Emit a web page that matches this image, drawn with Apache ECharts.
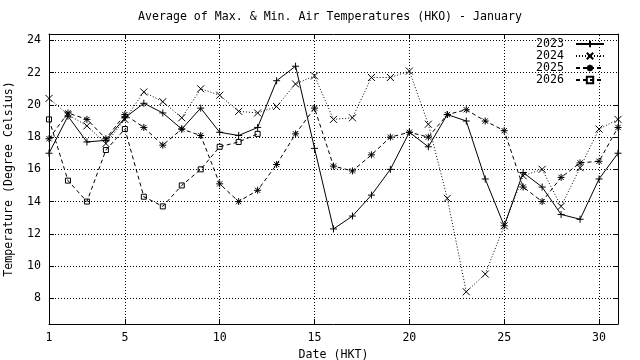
<!DOCTYPE html>
<html><head><meta charset="utf-8">
<script src="https://cdn.jsdelivr.net/npm/echarts@6/dist/echarts.min.js"></script>
<style>html,body{margin:0;padding:0;background:#fff}#c{width:640px;height:360px}</style>
</head><body><div id="c"></div>
<script>
const days = [1,2,3,4,5,6,7,8,9,10,11,12,13,14,15,16,17,18,19,20,21,22,23,24,25,26,27,28,29,30,31];
const xTicks = [1,5,10,15,20,25,30];
const xGrid = [5,10,15,20,25,30];
const yTicks = [8,10,12,14,16,18,20,22,24];
const t2023 = [17.0,19.3,17.7,17.8,19.2,20.1,19.5,18.5,19.8,18.3,18.1,18.6,21.5,22.4,17.3,12.3,13.1,14.4,16.0,18.3,17.4,19.4,19.0,15.4,12.5,15.8,14.9,13.2,12.9,15.4,17.0];
const t2024 = [20.4,19.4,18.7,17.6,19.1,20.8,20.2,19.2,21.0,20.6,19.6,19.5,19.9,21.3,21.8,19.1,19.2,21.7,21.7,22.1,18.8,14.2,8.4,9.5,12.5,15.6,16.0,13.7,16.1,18.5,19.1];
const t2025 = [17.9,19.5,19.1,17.9,19.4,18.6,17.5,18.5,18.1,15.1,14.0,14.7,16.3,18.2,19.8,16.2,15.9,16.9,18.0,18.3,18.0,19.4,19.7,19.0,18.4,14.9,14.0,15.5,16.4,16.5,18.6];
const t2026 = [19.1,15.3,14.0,17.2,18.5,14.3,13.7,15.0,16.0,17.4,17.7,18.2];
const seriesNames = ['2023','2024','2025','2026'];
const titleText = 'Average of Max. & Min. Air Temperatures (HKO) - January';
const xName = 'Date (HKT)';
const yName = 'Temperature (Degree Celsius)';

const FONT = 'DejaVu Sans Mono';
const FS = 11.6;
const pairs = vals => vals.map((v, i) => [days[i], v]);
const symPlus = 'path://M0,4H8M4,0V8';
const symCross = 'path://M0,0L8,8M8,0L0,8';
const symStar = 'path://M0,4H8M4,0V8M1,1L7,7M7,1L1,7';
const symSquare = 'path://M0,0H8V8H0Z';

function mkSeries(name, vals, symbol, size, dash, extra) {
  return Object.assign({
    name, type: 'line', data: pairs(vals), symbol, symbolSize: size,
    showAllSymbol: true, animation: false,
    lineStyle: { color: '#000', width: 1, type: dash },
    itemStyle: { color: 'rgba(0,0,0,0)', borderColor: '#000', borderWidth: 1 },
    emphasis: { disabled: true }
  }, extra || {});
}

const black = { color: '#000', width: 1 };
const tickCommon = { inside: true, length: 5, lineStyle: black };
const gridDot = { color: '#000', width: 1, type: [1, 2] };

const option = {
  animation: false,
  backgroundColor: '#fff',
  grid: { left: 49, right: 22, top: 34, bottom: 36, containLabel: false, outerBoundsMode: 'none' },
  graphic: [{
    type: 'text', left: 334 - 56 * 3.5, top: 11,
    style: { text: titleText, font: FS + 'px "' + FONT + '"', fill: '#000' }
  }],
  legend: {
    data: seriesNames, orient: 'vertical', align: 'right',
    right: 22, top: 35, padding: [3, 13, 3, 7],
    itemWidth: 28, itemHeight: 8, itemGap: 0,
    backgroundColor: '#fff',
    textStyle: { fontFamily: FONT, fontSize: FS, color: '#000', lineHeight: 10.5, padding: [0, 7, 0, 0] }
  },
  xAxis: [{
    type: 'value', min: 1, max: 31, position: 'bottom',
    axisLine: { onZero: false, lineStyle: black },
    axisTick: Object.assign({ customValues: xTicks }, tickCommon),
    axisLabel: { customValues: xTicks, color: '#000', fontFamily: FONT, fontSize: FS, margin: 8 },
    splitLine: { show: false },
    name: xName, nameLocation: 'middle', nameGap: 22,
    nameTextStyle: { color: '#000', fontFamily: FONT, fontSize: FS }
  }, {
    type: 'value', min: 1, max: 31, position: 'top',
    axisLine: { onZero: false, lineStyle: black },
    axisTick: Object.assign({ customValues: xTicks }, tickCommon),
    axisLabel: { show: false }, splitLine: { show: false }
  }],
  yAxis: [{
    type: 'value', min: 6.4, max: 24.4, position: 'left',
    axisLine: { onZero: false, show: true, lineStyle: black },
    axisTick: Object.assign({ customValues: yTicks }, tickCommon),
    axisLabel: { customValues: yTicks, color: '#000', fontFamily: FONT, fontSize: FS, margin: 8 },
    splitLine: { show: false },
    name: yName, nameLocation: 'middle', nameGap: 34, nameRotate: 90,
    nameTextStyle: { color: '#000', fontFamily: FONT, fontSize: FS }
  }, {
    type: 'value', min: 6.4, max: 24.4, position: 'right',
    axisLine: { onZero: false, show: true, lineStyle: black },
    axisTick: Object.assign({ customValues: yTicks }, tickCommon),
    axisLabel: { show: false }, splitLine: { show: false }
  }],
  series: [
    mkSeries('2023', t2023, symPlus, 7, 'solid', {
      markLine: {
        silent: true, symbol: 'none', label: { show: false }, animation: false,
        lineStyle: gridDot, emphasis: { disabled: true },
        data: xGrid.map(v => ({ xAxis: v })).concat(yTicks.map(v => ({ yAxis: v })))
      }
    }),
    mkSeries('2024', t2024, symCross, 7, [1, 2]),
    mkSeries('2025', t2025, symStar, 7, [4, 3]),
    mkSeries('2026', t2026, symSquare, 5, [4, 3])
  ]
};
const chart = echarts.init(document.getElementById('c'), null, { renderer: 'canvas' });
chart.setOption(option);
</script></body></html>
